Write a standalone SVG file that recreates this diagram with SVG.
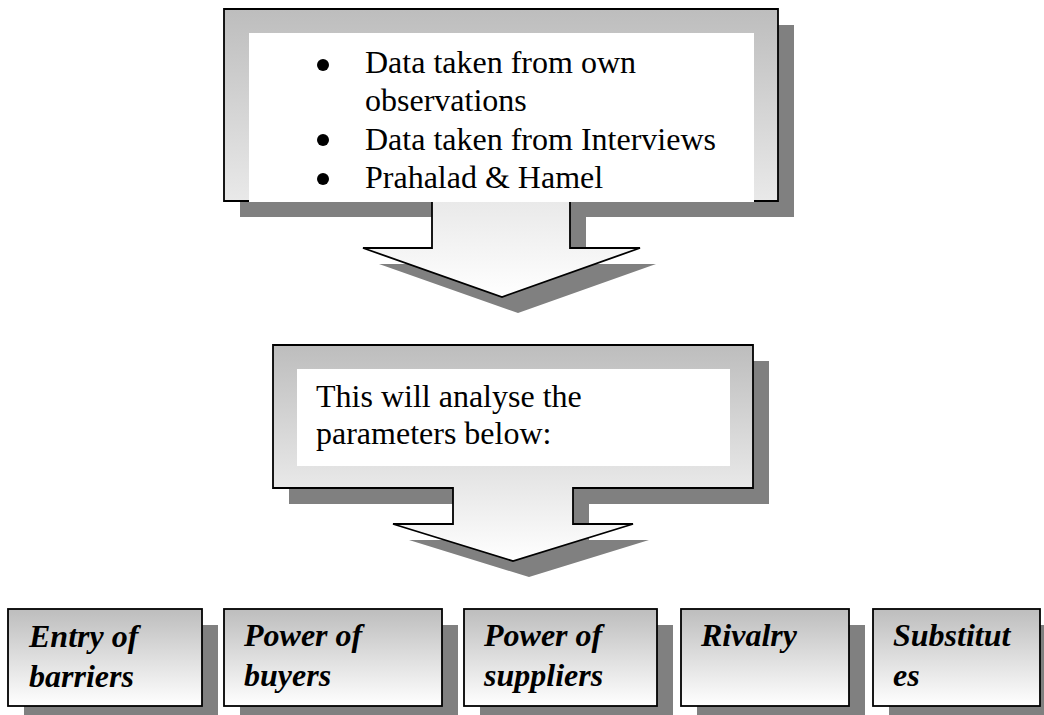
<svg xmlns="http://www.w3.org/2000/svg" width="1044" height="715" viewBox="0 0 1044 715">
  <defs>
    <linearGradient id="shade" x1="0" y1="0" x2="0" y2="1">
      <stop offset="0" stop-color="#bdbdbd"/>
      <stop offset="1" stop-color="#ffffff"/>
    </linearGradient>
  </defs>
  <style>
    .shadow { fill: #808080; }
    .body { fill: url(#shade); stroke: #000; stroke-width: 1.8; stroke-linejoin: miter; }
    .pane { fill: #ffffff; }
    .txt { font-family: "Liberation Serif", "Times New Roman", serif; font-size: 32px; fill: #000; }
    .lbl { font-family: "Liberation Serif", "Times New Roman", serif; font-size: 32px; font-weight: bold; font-style: italic; fill: #000; }
    .dot { fill: #000; }
  </style>

  <!-- Sources callout with down arrow -->
  <g id="sources">
    <path class="shadow" transform="translate(16,16)" d="M224,9 H778 V201 H570 V248 H640 L502,297 L363,248 H432 V201 H224 Z"/>
    <path class="body" d="M224,9 H778 V201 H570 V248 H640 L502,297 L363,248 H432 V201 H224 Z"/>
    <rect class="pane" x="249" y="33" width="505" height="169"/>
    <circle class="dot" cx="323" cy="65" r="6"/>
    <circle class="dot" cx="323" cy="140" r="6"/>
    <circle class="dot" cx="323" cy="179" r="6"/>
    <text class="txt" x="365" y="73">Data taken from own</text>
    <text class="txt" x="365" y="111">observations</text>
    <text class="txt" x="365" y="150">Data taken from Interviews</text>
    <text class="txt" x="365" y="188">Prahalad &amp; Hamel</text>
  </g>

  <!-- Analysis callout with down arrow -->
  <g id="analysis">
    <path class="shadow" transform="translate(16,16)" d="M273,345 H753 V488 H573 V524 H633 L513,561 L393,524 H453 V488 H273 Z"/>
    <path class="body" d="M273,345 H753 V488 H573 V524 H633 L513,561 L393,524 H453 V488 H273 Z"/>
    <rect class="pane" x="297" y="369" width="433" height="97"/>
    <text class="txt" x="316" y="407">This will analyse the</text>
    <text class="txt" x="316" y="444">parameters below:</text>
  </g>

  <!-- Parameter boxes -->
  <g id="entry-barriers">
    <rect class="shadow" x="24" y="625" width="194" height="97"/>
    <rect class="body" x="8" y="609" width="194" height="97"/>
    <text class="lbl" x="29" y="647">Entry of</text>
    <text class="lbl" x="29" y="687">barriers</text>
  </g>
  <g id="buyers">
    <rect class="shadow" x="240" y="625" width="218" height="97"/>
    <rect class="body" x="224" y="609" width="218" height="97"/>
    <text class="lbl" x="244" y="646">Power of</text>
    <text class="lbl" x="244" y="686">buyers</text>
  </g>
  <g id="suppliers">
    <rect class="shadow" x="480" y="625" width="193" height="97"/>
    <rect class="body" x="464" y="609" width="193" height="97"/>
    <text class="lbl" x="484" y="646">Power of</text>
    <text class="lbl" x="484" y="686">suppliers</text>
  </g>
  <g id="rivalry">
    <rect class="shadow" x="697" y="625" width="168" height="97"/>
    <rect class="body" x="681" y="609" width="168" height="97"/>
    <text class="lbl" x="701" y="646">Rivalry</text>
  </g>
  <g id="substitutes">
    <rect class="shadow" x="889" y="625" width="167" height="97"/>
    <rect class="body" x="873" y="609" width="167" height="97"/>
    <text class="lbl" x="893" y="646">Substitut</text>
    <text class="lbl" x="893" y="686">es</text>
  </g>
</svg>
